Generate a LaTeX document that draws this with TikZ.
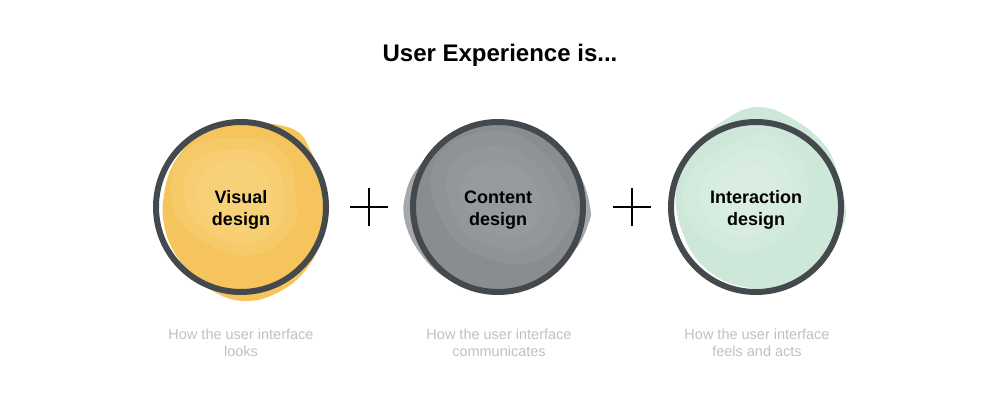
\documentclass[tikz,border=0pt]{standalone}
\usepackage{fontspec}
\setmainfont{Liberation Sans}
\definecolor{ringc}{RGB}{68,73,78}
\definecolor{yelA}{RGB}{245,196,92}
\definecolor{yelB}{RGB}{250,216,135}
\definecolor{gryO}{RGB}{165,167,170}
\definecolor{gryA}{RGB}{138,141,144}
\definecolor{gryB}{RGB}{160,162,165}
\definecolor{grnA}{RGB}{205,231,216}
\definecolor{grnB}{RGB}{224,241,231}
\definecolor{subc}{RGB}{188,193,197}
\begin{document}
\begin{tikzpicture}[x=1pt,y=1pt,
  ring/.style={draw=ringc,line width=6pt,circle,minimum size=170pt,inner sep=0pt},
  lbl/.style={font=\fontsize{18}{22}\selectfont\bfseries,align=center},
  plussign/.style={draw=black,line width=2.6pt},
  sub/.style={font=\fontsize{14.5}{17.5}\selectfont,text=subc,align=center},
  ttl/.style={font=\fontsize{24}{28}\selectfont\bfseries},
  soft/.style={opacity=0.3}]
\useasboundingbox (0,0) rectangle (1000,400);
% watercolor blobs - visual
\fill[yelA,shift={(243,193)}] plot[smooth cycle,tension=0.7] coordinates
 {(0:84) (20:83) (40:88) (55:93) (75:87) (95:86) (120:84) (145:82) (170:80) (195:81) (220:83) (245:88) (270:94) (295:92) (320:88) (345:84)};
\foreach \s in {60,48,36}{
\fill[yelB,soft,shift={(236,202)}] plot[smooth cycle,tension=0.8] coordinates
 {(0:\s) (45:1.1*\s) (90:\s) (140:1.15*\s) (190:1.05*\s) (240:0.9*\s) (290:\s) (330:1.05*\s)};}
% content
\fill[gryO,shift={(498,193)}] plot[smooth cycle,tension=0.7] coordinates
 {(0:92) (20:88) (45:86) (70:84) (95:85) (120:86) (150:88) (170:93) (190:94) (215:90) (240:87) (270:86) (300:86) (330:88) (350:92)};
\fill[gryA] (498,193) circle (86);
\foreach \s in {70,55,40}{
\fill[gryB,soft,shift={(502,200)}] plot[smooth cycle,tension=0.8] coordinates
 {(0:\s) (50:0.9*\s) (100:\s) (150:1.1*\s) (200:0.9*\s) (250:0.85*\s) (300:\s) (340:1.05*\s)};}
% interaction
\fill[grnA,shift={(757,197)}] plot[smooth cycle,tension=0.7] coordinates
 {(0:88) (20:86) (40:89) (65:91) (90:96) (115:88) (140:84) (170:82) (200:80) (230:83) (260:85) (290:86) (320:86) (345:89)};
\foreach \s in {60,45,30}{
\fill[grnB,soft,shift={(748,205)}] plot[smooth cycle,tension=0.8] coordinates
 {(0:\s) (60:1.1*\s) (120:0.9*\s) (180:1.1*\s) (240:\s) (300:0.9*\s)};}
% rings
\node[ring] (vis) at (241,193) {};
\node[ring] (con) at (498,193) {};
\node[ring] (int) at (756,193) {};
\node[lbl] (visl) at (241,190) {Visual\\design};
\node[lbl] (conl) at (498,190) {Content\\design};
\node[lbl] (intl) at (756,190) {Interaction\\design};
% plus signs
\coordinate (p1) at (369,193);
\coordinate (p2) at (632,193);
\draw[plussign] ([xshift=-19pt]p1) -- ([xshift=19pt]p1) ([yshift=-19pt]p1) -- ([yshift=19pt]p1);
\draw[plussign] ([xshift=-19pt]p2) -- ([xshift=19pt]p2) ([yshift=-19pt]p2) -- ([yshift=19pt]p2);
% title
\node[ttl] (title) at (500,345) {User Experience is...};
% subtitles
\node[sub] (svis) at (241,57) {How the user interface\\looks};
\node[sub] (scon) at (499,57) {How the user interface\\communicates};
\node[sub] (sint) at (757,57) {How the user interface\\feels and acts};
\end{tikzpicture}
\end{document}
